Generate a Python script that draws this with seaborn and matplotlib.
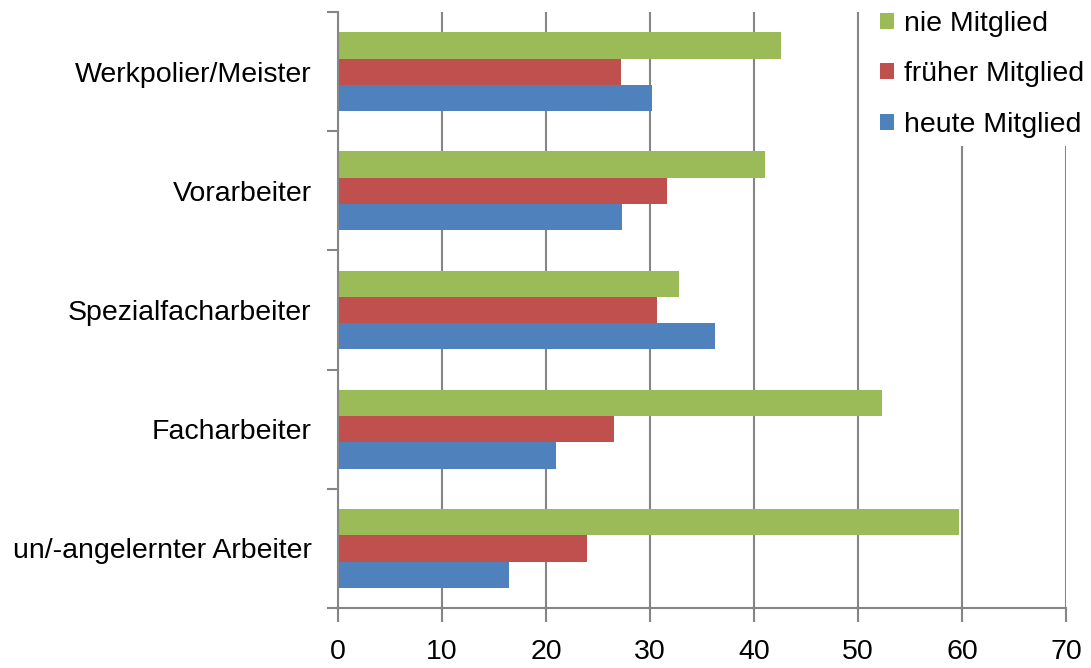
import numpy as np
import pandas as pd
import matplotlib.pyplot as plt
import seaborn as sns
from matplotlib.patches import Patch

# Data (percent)
categories = ["Werkpolier/Meister", "Vorarbeiter", "Spezialfacharbeiter",
              "Facharbeiter", "un/-angelernter Arbeiter"]
series = ["nie Mitglied", "früher Mitglied", "heute Mitglied"]
nie_mitglied = [42.6, 41.1, 32.8, 52.3, 59.7]
frueher_mitglied = [27.2, 31.6, 30.7, 26.5, 23.9]
heute_mitglied = [30.2, 27.3, 36.3, 21.0, 16.4]
colors = ["#9BBB59", "#C0504D", "#4F81BD"]
xticks = [0, 10, 20, 30, 40, 50, 60, 70]

# Long format table for seaborn
df = pd.DataFrame({
    "Kategorie": categories * 3,
    "Gruppe": [series[0]] * 5 + [series[1]] * 5 + [series[2]] * 5,
    "Wert": nie_mitglied + frueher_mitglied + heute_mitglied,
})

sns.set_style("white")
plt.rcParams['font.family'] = ['Liberation Sans', 'DejaVu Sans']
plt.rcParams['text.color'] = 'black'
plt.rcParams['xtick.color'] = 'black'
plt.rcParams['ytick.color'] = 'black'

fig = plt.figure(figsize=(10.91, 6.68), dpi=100)
ax = fig.add_axes([0.3098, 0.0898, 0.977 - 0.3098, 0.982 - 0.0898])

sns.barplot(data=df, y="Kategorie", x="Wert", hue="Gruppe",
            order=categories, hue_order=series, palette=colors,
            width=0.66, saturation=1, orient="h", ax=ax, legend=False,
            linewidth=0)

# Axes styling
grid_col = "#868686"
ax.set_xlim(0, 70)
ax.set_ylim(len(categories) - 0.5, -0.5)
ax.set_xticks(xticks)
ax.set_xlabel("")
ax.set_ylabel("")
ax.set_axisbelow(True)
ax.xaxis.grid(True, color=grid_col, linewidth=1.5)
ax.yaxis.grid(False)
for side in ["top", "right"]:
    ax.spines[side].set_visible(False)
for side in ["left", "bottom"]:
    ax.spines[side].set_color(grid_col)
    ax.spines[side].set_linewidth(1.5)

ax.tick_params(axis="x", which="major", direction="out", length=10, width=1.5,
               color=grid_col, labelcolor="black", labelsize=20.5, pad=12, bottom=True)
ax.tick_params(axis="y", which="major", length=0, labelsize=20.5, labelcolor="black", pad=19)
ax.set_yticks(np.arange(-0.5, len(categories), 1.0), minor=True)
ax.tick_params(axis="y", which="minor", direction="out", length=8, width=1.5,
               color=grid_col, left=True)

# Legend in the top right corner
handles = [Patch(facecolor=c, edgecolor="none") for c in colors]
leg = ax.legend(handles, series, loc="upper right", bbox_to_anchor=(1.057, 1.04),
                fontsize=20.5, frameon=True, facecolor="white", edgecolor="none",
                framealpha=1, handlelength=0.48, handleheight=0.48,
                handletextpad=0.38, labelspacing=0.86, borderpad=0.3)

fig.savefig("out.png", dpi=100)
